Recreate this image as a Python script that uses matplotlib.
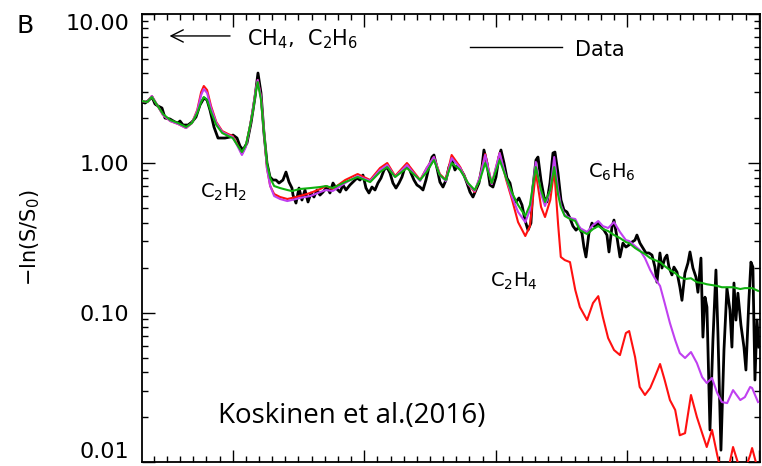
import matplotlib
matplotlib.use('Agg')
import matplotlib.pyplot as plt
from matplotlib.ticker import FixedLocator, MultipleLocator, LogLocator, NullFormatter

# Model grid (nm) and the three model spectra
wl_model = [106.2, 107.0, 107.7, 108.5, 109.4, 110.5, 111.7, 112.9, 113.8, 114.6,
            115.2, 115.6, 116.1, 116.7, 117.5, 118.4, 119.3, 120.0, 120.8, 121.4,
            122.0, 122.6, 123.1, 123.5, 123.8, 124.3, 124.8, 125.2, 125.7, 126.3,
            127.2, 128.3, 129.0, 130.2, 131.8, 133.3, 134.2, 135.2, 137.1, 139.0,
            140.9, 142.4, 143.5, 144.7, 146.5, 148.5, 149.5, 150.6, 151.5, 152.4,
            153.3, 154.6, 155.8, 156.8, 157.6, 158.4, 159.4, 160.6, 161.6, 162.5,
            163.4, 164.5, 165.2, 166.1, 166.9, 167.5, 168.3, 168.9, 169.5, 169.9,
            170.5, 171.3, 172.1, 172.8, 173.9, 174.8, 175.6, 176.3, 177.1, 178.0,
            178.9, 179.8, 180.3, 181.2, 181.9, 182.7, 183.5, 184.2, 185.0, 185.7,
            186.5, 187.3, 188.0, 188.8, 189.7, 190.6, 191.4, 192.1, 192.9, 193.7,
            194.4, 195.2, 196.1, 197.2, 197.9, 198.7, 199.0, 199.9]

green = [2.614, 2.574, 2.781, 2.458, 2.139, 1.950, 1.862, 1.751, 1.862, 2.172,
         2.574, 2.781, 2.655, 2.206, 1.805, 1.596, 1.524, 1.477, 1.306, 1.190,
         1.326, 1.751, 2.275, 3.004, 3.504, 2.655, 1.547, 1.005, 0.797, 0.705,
         0.683, 0.663, 0.652, 0.673, 0.683, 0.694, 0.705, 0.683, 0.749, 0.810,
         0.749, 0.874, 0.944, 0.810, 0.930, 0.773, 0.874, 1.052, 0.835, 0.773,
         1.005, 0.902, 0.738, 0.663, 0.773, 1.005, 0.738, 1.052, 0.797, 0.633,
         0.526, 0.444, 0.526, 0.944, 0.663, 0.551, 0.663, 0.944, 0.613, 0.510,
         0.444, 0.424, 0.411, 0.357, 0.336, 0.363, 0.380, 0.363, 0.352, 0.331,
         0.316, 0.297, 0.292, 0.271, 0.259, 0.247, 0.232, 0.225, 0.218, 0.205,
         0.193, 0.184, 0.173, 0.168, 0.170, 0.160, 0.158, 0.155, 0.153, 0.151,
         0.148, 0.148, 0.148, 0.144, 0.146, 0.146, 0.146, 0.140]

magenta = [2.614, 2.574, 2.824, 2.458, 2.106, 1.920, 1.834, 1.724, 1.862, 2.240,
           2.868, 3.145, 2.958, 2.347, 1.862, 1.621, 1.547, 1.500, 1.286, 1.137,
           1.286, 1.751, 2.347, 3.097, 3.613, 2.781, 1.547, 0.930, 0.705, 0.604,
           0.577, 0.559, 0.568, 0.586, 0.604, 0.642, 0.663, 0.652, 0.738, 0.822,
           0.761, 0.902, 0.974, 0.810, 0.974, 0.761, 0.930, 1.102, 0.835, 0.761,
           1.085, 0.930, 0.727, 0.652, 0.810, 1.137, 0.727, 1.172, 0.797, 0.595,
           0.472, 0.404, 0.487, 1.020, 0.623, 0.518, 0.663, 1.102, 0.663, 0.526,
           0.450, 0.430, 0.424, 0.369, 0.347, 0.386, 0.411, 0.380, 0.369, 0.404,
           0.347, 0.306, 0.302, 0.279, 0.263, 0.232, 0.193, 0.170, 0.151, 0.116,
           0.0852, 0.0655, 0.0536, 0.0497, 0.0545, 0.0460, 0.0370, 0.0338, 0.0365, 0.0289,
           0.0252, 0.0248, 0.0303, 0.0260, 0.0272, 0.0318, 0.0313, 0.0252]

red = [2.614, 2.574, 2.824, 2.458, 2.106, 1.920, 1.834, 1.724, 1.862, 2.275,
       3.004, 3.294, 3.097, 2.420, 1.891, 1.646, 1.571, 1.524, 1.306, 1.154,
       1.306, 1.751, 2.347, 3.097, 3.613, 2.781, 1.547, 0.930, 0.705, 0.623,
       0.595, 0.577, 0.586, 0.604, 0.633, 0.673, 0.705, 0.673, 0.773, 0.848,
       0.773, 0.930, 1.005, 0.822, 1.005, 0.773, 0.930, 1.102, 0.848, 0.773,
       1.137, 0.944, 0.727, 0.642, 0.810, 1.154, 0.727, 1.172, 0.773, 0.568,
       0.404, 0.326, 0.380, 0.874, 0.510, 0.437, 0.568, 0.902, 0.386, 0.236,
       0.225, 0.218, 0.142, 0.109, 0.0892, 0.116, 0.129, 0.0934, 0.0676, 0.0562,
       0.0520, 0.0730, 0.0753, 0.0504, 0.0318, 0.0281, 0.0313, 0.0370, 0.0453, 0.0354,
       0.0260, 0.0223, 0.0151, 0.0156, 0.0281, 0.0200, 0.0156, 0.0126, 0.0164, 0.0111,
       0.0082, 0.0082, 0.0126, 0.0088, 0.0088, 0.0111, 0.0124, 0.0088]

# Measured spectrum
wl_data = [106.20, 106.66, 107.11, 107.72, 108.18, 108.63, 109.24, 109.70, 110.46, 111.22,
           111.68, 111.98, 112.44, 113.20, 113.80, 114.41, 115.02, 115.63, 116.09, 116.54,
           117.15, 117.76, 118.82, 119.58, 120.04, 120.65, 121.10, 121.56, 122.17, 122.78,
           123.39, 123.84, 124.30, 124.75, 125.21, 125.67, 126.12, 126.58, 127.04, 127.64,
           128.10, 128.56, 129.01, 129.17, 129.62, 130.08, 130.53, 130.99, 131.45, 131.90,
           132.36, 132.82, 133.27, 133.73, 134.34, 134.79, 135.25, 135.71, 136.31, 136.77,
           137.23, 137.83, 138.29, 138.90, 139.36, 139.81, 140.27, 140.72, 141.18, 141.64,
           142.09, 142.55, 143.01, 143.46, 143.92, 144.37, 144.83, 145.29, 145.74, 146.20,
           146.66, 147.11, 147.57, 148.02, 148.48, 148.94, 149.39, 149.85, 150.31, 150.61,
           151.07, 151.52, 151.98, 152.44, 152.89, 153.35, 153.80, 154.26, 154.72, 155.17,
           155.63, 156.09, 156.54, 157.00, 157.45, 157.91, 158.21, 158.67, 159.13, 159.58,
           160.04, 160.50, 160.80, 161.26, 161.71, 162.17, 162.63, 163.08, 163.54, 164.00,
           164.45, 164.91, 165.36, 165.67, 166.12, 166.43, 166.88, 167.34, 167.80, 168.25,
           168.71, 169.01, 169.47, 169.93, 170.38, 170.84, 171.29, 171.75, 172.21, 172.66,
           173.12, 173.42, 173.73, 174.18, 174.64, 175.10, 175.55, 176.01, 176.47, 176.92,
           177.23, 177.68, 177.99, 178.44, 178.90, 179.35, 179.81, 180.27, 180.72, 181.18,
           181.48, 181.94, 182.39, 182.85, 183.31, 183.77, 184.22, 184.53, 184.98, 185.29,
           185.74, 186.05, 186.35, 186.81, 187.11, 187.57, 188.02, 188.33, 188.78, 189.24,
           189.55, 190.00, 190.46, 190.76, 191.22, 191.52, 191.83, 192.13, 192.59, 193.04,
           193.50, 193.80, 194.26, 194.72, 195.17, 195.63, 195.93, 196.24, 196.54, 196.84,
           197.30, 197.76, 198.06, 198.51, 198.82, 199.12, 199.43, 199.74, 200.04]

data = [2.574, 2.534, 2.614, 2.781, 2.496, 2.420, 2.347, 2.011, 1.980, 1.891,
        1.862, 1.920, 1.805, 1.805, 1.891, 2.042, 2.458, 2.738, 2.655, 2.275,
        1.751, 1.477, 1.477, 1.500, 1.547, 1.477, 1.306, 1.228, 1.368, 1.862,
        2.781, 4.025, 2.958, 1.596, 1.005, 0.810, 0.773, 0.773, 0.738, 0.773,
        0.874, 0.749, 0.683, 0.613, 0.542, 0.683, 0.568, 0.663, 0.551, 0.633,
        0.595, 0.663, 0.613, 0.642, 0.694, 0.633, 0.738, 0.683, 0.642, 0.716,
        0.663, 0.716, 0.749, 0.797, 0.773, 0.835, 0.683, 0.633, 0.694, 0.663,
        0.738, 0.797, 0.902, 0.944, 0.861, 0.738, 0.683, 0.738, 0.810, 0.944,
        0.974, 0.861, 0.773, 0.716, 0.694, 0.663, 0.773, 0.944, 1.102, 1.137,
        0.930, 0.749, 0.694, 0.773, 0.944, 1.052, 0.902, 0.974, 0.902, 0.835,
        0.738, 0.642, 0.595, 0.663, 0.738, 0.944, 1.228, 1.005, 0.716, 0.694,
        0.810, 1.102, 1.228, 1.005, 0.797, 0.738, 0.595, 0.551, 0.586, 0.526,
        0.417, 0.357, 0.398, 0.694, 1.052, 1.102, 0.773, 0.595, 0.551, 0.738,
        1.172, 1.190, 0.861, 0.568, 0.487, 0.472, 0.430, 0.380, 0.357, 0.374,
        0.341, 0.275, 0.236, 0.341, 0.398, 0.374, 0.398, 0.374, 0.357, 0.331,
        0.255, 0.374, 0.417, 0.321, 0.236, 0.292, 0.275, 0.284, 0.297, 0.306,
        0.331, 0.292, 0.271, 0.251, 0.251, 0.243, 0.202, 0.160, 0.251, 0.199,
        0.232, 0.243, 0.202, 0.179, 0.202, 0.187, 0.148, 0.121, 0.184, 0.215,
        0.255, 0.199, 0.173, 0.137, 0.232, 0.0686, 0.127, 0.109, 0.0164, 0.0655,
        0.193, 0.0730, 0.0120, 0.0562, 0.146, 0.104, 0.0588, 0.158, 0.0892, 0.135,
        0.0826, 0.0588, 0.0413, 0.121, 0.218, 0.202, 0.0354, 0.0892, 0.0588]

yticks = [0.01, 0.1, 1.0, 10.0]
ytick_labels = ['0.01', '0.10', '1.00', '10.00']

if __name__ == '__main__':
    plt.rcParams['font.family'] = ['DejaVu Sans']
    plt.rcParams['mathtext.default'] = 'regular'

    fig = plt.figure(figsize=(7.62, 4.66), dpi=100)
    ax = fig.add_axes([142/762, 4/466, 618/762, 448/466])

    ax.plot(wl_data, data, color='black', lw=2.0, zorder=2)
    ax.plot(wl_model, red, color='#ff1010', lw=1.5, zorder=3)
    ax.plot(wl_model, magenta, color='#c040f0', lw=1.5, zorder=4)
    ax.plot(wl_model, green, color='#10b010', lw=1.5, zorder=5)

    ax.set_yscale('log')
    ax.set_xlim(106.2, 200.2)
    ax.set_ylim(0.01, 10)

    ax.xaxis.set_major_locator(MultipleLocator(20))
    ax.xaxis.set_minor_locator(MultipleLocator(2))
    ax.yaxis.set_major_locator(FixedLocator(yticks))
    ax.set_yticklabels(ytick_labels)
    ax.yaxis.set_minor_locator(LogLocator(base=10, subs=range(2, 10)))
    ax.yaxis.set_minor_formatter(NullFormatter())

    ax.tick_params(which='both', direction='in', top=True, right=True,
                   labelbottom=False, width=1.0)
    ax.tick_params(which='major', length=9, labelsize=16, pad=9)
    ax.tick_params(which='minor', length=4.5)
    for s in ax.spines.values():
        s.set_linewidth(1.3)

    # keep the end labels inside the frame
    ticks = ax.yaxis.get_major_ticks()
    ticks[0].label1.set_va('bottom')
    ticks[-1].label1.set_va('top')

    ax.set_ylabel('\u2212ln(S/S$_0$)', fontsize=15)
    ax.yaxis.set_label_coords(-0.162, 0.5)

    # labels inside the plot
    ax.annotate('', xy=(0.040, 0.951), xytext=(0.147, 0.951), xycoords='axes fraction',
                arrowprops=dict(arrowstyle='->', lw=1.0, color='black',
                                mutation_scale=22))
    ax.text(0.170, 0.931, 'CH$_4$,  C$_2$H$_6$', transform=ax.transAxes, fontsize=15)
    ax.plot([0.531, 0.680], [0.926, 0.926], color='black', lw=1.0, transform=ax.transAxes)
    ax.text(0.701, 0.906, 'Data', transform=ax.transAxes, fontsize=15)
    ax.text(0.094, 0.589, 'C$_2$H$_2$', transform=ax.transAxes, fontsize=14)
    ax.text(0.722, 0.634, 'C$_6$H$_6$', transform=ax.transAxes, fontsize=14)
    ax.text(0.563, 0.391, 'C$_2$H$_4$', transform=ax.transAxes, fontsize=14)
    ax.text(0.123, 0.087, 'Koskinen et al.(2016)', transform=ax.transAxes, fontsize=20,
            family=['Open Sans'])

    fig.text(0.021, 0.929, 'B', fontsize=18)

    fig.savefig('out.png', dpi=100)
